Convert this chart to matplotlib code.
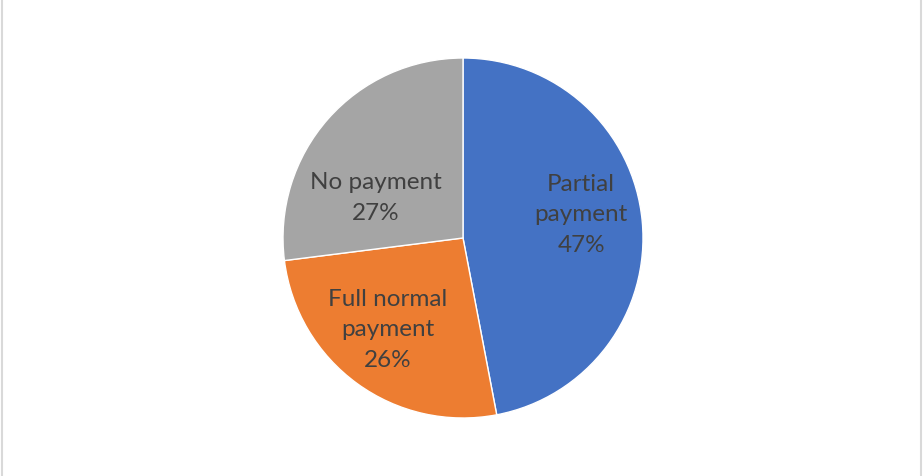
import numpy as np
import matplotlib.pyplot as plt
from matplotlib.lines import Line2D

labels = ["Partial\npayment", "Full normal\npayment", "No payment"]
shares = [47, 26, 27]
colors = ["#4472C4", "#ED7D31", "#A5A5A5"]
# label spots inside the slices (x, y in pie units)
label_xy = [(0.656, 0.128), (-0.417, -0.511), (-0.483, 0.222)]

plt.rcParams['font.family'] = ['Lato', 'DejaVu Sans']

fig = plt.figure(figsize=(9.23, 4.76), dpi=100)
ax = fig.add_axes([283 / 923, 58 / 476, 360 / 923, 360 / 476])

wedges, _ = ax.pie(shares, colors=colors, startangle=90, counterclock=False,
                   radius=1, wedgeprops=dict(edgecolor="white", linewidth=1))
ax.set_xlim(-1, 1)
ax.set_ylim(-1, 1)
ax.axis("off")

for lab, val, (x, y) in zip(labels, shares, label_xy):
    ax.text(x, y, "%s\n%d%%" % (lab, val), ha="center", va="center",
            fontsize=17.5, color="#404040", linespacing=1.55)

# chart frame (only the side edges show)
fig.add_artist(Line2D([1.5 / 923, 1.5 / 923], [0, 1], color="#D9D9D9", lw=1.5))
fig.add_artist(Line2D([921 / 923, 921 / 923], [0, 1], color="#D9D9D9", lw=1.5))

fig.savefig("out.png", dpi=100)
